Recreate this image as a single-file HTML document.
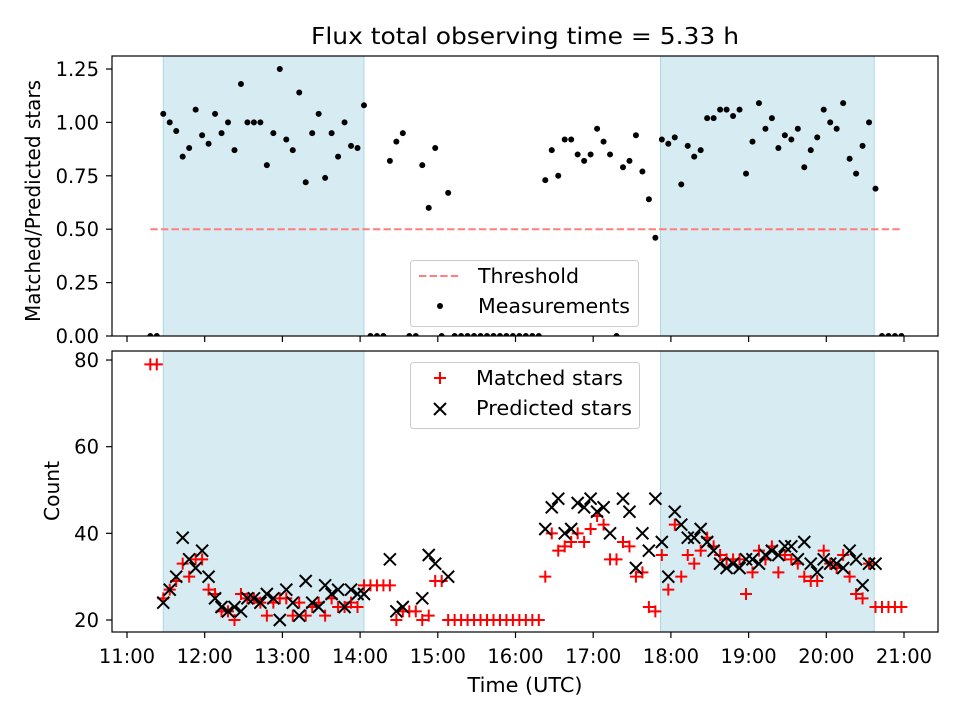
<!DOCTYPE html>
<html><head><meta charset="utf-8">
<style>
html,body{margin:0;padding:0;background:#fff;}
svg{display:block;font-family:"DejaVu Sans","Liberation Sans",sans-serif;}
</style></head>
<body>
<svg id="chart" width="960" height="720" viewBox="0 0 960 720" xmlns="http://www.w3.org/2000/svg">
<defs>
<clipPath id="clipTop"><rect x="112" y="56" width="826" height="280"/></clipPath>
<clipPath id="clipBot"><rect x="112" y="351" width="826" height="281"/></clipPath>
</defs>
<rect x="0" y="0" width="960" height="720" fill="#fff"/>
<text x="525" y="44" font-size="23" text-anchor="middle" textLength="428" lengthAdjust="spacingAndGlyphs">Flux total observing time = 5.33 h</text>
<g id="topPanel"></g>
<g id="botPanel"></g>
</svg>
<script>
// minutes after 11:00 UTC
const times = [18,23,28,33,38,43,48,53,58,63,68,73,78,83,88,93,98,103,108,113,118,123,128,133,138,143,148,153,158,163,168,173,178,183,188,193,198,203,208,213,218,223,228,233,238,243,248,253,258,263,268,273,278,283,288,293,298,303,308,313,318,323,328,333,338,343,348,353,358,363,368,373,378,383,388,393,398,403,408,413,418,423,428,433,438,443,448,453,458,463,468,473,478,483,488,493,498,503,508,513,518,523,528,533,538,543,548,553,558,563,568,573,578,583,588,593,598];
const ratio = [0,0,
1.04,1.00,0.96,0.84,0.88,1.06,0.94,0.90,1.04,0.95,1.00,0.87,1.18,1.00,1.00,1.00,0.80,0.95,1.25,0.92,0.87,1.14,0.72,0.95,1.04,0.74,0.95,0.84,1.00,0.89,0.88,1.08,
0,0,0,0.82,0.91,0.95,0,0,0.80,0.60,0.88,0,0.67,
0,0,0,0,0,0,0,0,0,0,0,0,0,0,
0.73,0.87,0.75,0.92,0.92,0.85,0.82,0.85,0.97,0.91,0.85,0,
0.79,0.82,0.94,0.77,0.64,0.46,0.92,0.90,0.93,0.71,0.89,0.84,0.87,1.02,1.02,1.06,1.06,1.03,1.06,0.76,0.91,1.09,0.97,1.02,0.88,0.94,0.92,0.97,0.79,0.87,0.93,1.06,1.00,0.97,1.09,0.83,0.76,0.89,1.00,0.69,
0,0,0,0];
const matched = [79,79,
25,27,29,33,30,34,34,27,26,22,22,20,26,25,25,24,21,24,25,25,21,24,21,23,24,21,25,23,23,24,23,28,
28,28,28,28,20,22,22,22,20,21,29,29,20,
20,20,20,20,20,20,20,20,20,20,20,20,20,20,
30,40,36,37,38,40,38,41,44,42,34,34,
38,37,30,31,23,22,35,27,42,30,35,33,36,39,37,35,34,34,34,26,31,36,34,37,31,35,34,33,30,29,29,36,33,32,35,30,26,25,33,23,
23,23,23,23];
const predicted = [null,null,
24,27,30,39,34,32,36,30,25,23,22,23,22,25,25,24,26,25,20,27,24,21,29,24,23,28,26,27,23,27,26,26,
null,null,null,34,22,23,null,null,25,35,33,null,30,
null,null,null,null,null,null,null,null,null,null,null,null,null,null,
41,46,48,40,41,47,46,48,45,46,40,null,
48,45,32,40,36,48,38,30,45,42,39,39,41,38,36,33,32,33,32,34,34,33,35,36,35,37,37,34,38,33,31,34,33,33,32,36,34,28,33,33,
null,null,null,null];
const shadeSpans = [[28,183],[412,577]];
const threshold = 0.5;
const thresholdSpan = [18,598];
const xTickLabels = ["11:00","12:00","13:00","14:00","15:00","16:00","17:00","18:00","19:00","20:00","21:00"];
const xTickMinutes = [0,60,120,180,240,300,360,420,480,540,600];
const topTicks = [0,0.25,0.5,0.75,1.0,1.25];
const topTickLabels = ["0.00","0.25","0.50","0.75","1.00","1.25"];
const botTicks = [20,40,60,80];

const NS="http://www.w3.org/2000/svg";
const X = m => 127 + m*77.7/60;
const YT = v => 336 - v*213.6;
const YB = c => 620 - (c-20)*4.333;
const TF = 19.5;
function mk(tag, attrs, parent){const e=document.createElementNS(NS,tag);for(const k in attrs)e.setAttribute(k,attrs[k]);parent.appendChild(e);return e;}
const topG=document.getElementById('topPanel'), botG=document.getElementById('botPanel');

function panel(g, y0, y1, clip){
  const gc = mk('g',{'clip-path':'url(#'+clip+')'},g);
  shadeSpans.forEach(s=>{
    const r=mk('rect',{x:X(s[0]),y:y0,width:X(s[1])-X(s[0]),height:y1-y0,fill:'#add8e6','fill-opacity':0.5,stroke:'#add8e6','stroke-width':1},gc);
    
    
  });
  xTickMinutes.forEach((m,i)=>{
    mk('line',{x1:X(m),x2:X(m),y1:y1,y2:y1+6,stroke:'#000','stroke-width':1.2},g);
  });
  return gc;
}
// top panel
const gt = panel(topG,56,336,'clipTop');
const th = mk('line',{x1:X(thresholdSpan[0]),x2:X(thresholdSpan[1]),y1:YT(threshold),y2:YT(threshold),stroke:'#ff7f7f','stroke-width':2,'stroke-dasharray':'7.4,3.2'},gt);


times.forEach((t,i)=>{
  const c=mk('circle',{cx:X(t),cy:YT(ratio[i]),r:3,fill:'#000'},gt);
  
  
});
mk('rect',{x:112,y:56,width:826,height:280,fill:'none',stroke:'#000','stroke-width':1.2},topG);
topTicks.forEach((v,i)=>{
  mk('line',{x1:106,x2:112,y1:YT(v),y2:YT(v),stroke:'#000','stroke-width':1.2},topG);
  const t=mk('text',{x:99,y:YT(v)+7,'font-size':TF,'text-anchor':'end'},topG);t.textContent=topTickLabels[i];
  
  
});
const ylt=mk('text',{x:0,y:0,'font-size':20,'text-anchor':'middle',textLength:242,lengthAdjust:'spacingAndGlyphs',transform:'translate(40,201) rotate(-90)'},topG);
ylt.textContent='Matched/Predicted stars';


// top legend
const lg1=mk('g',{},topG);


mk('rect',{x:410.5,y:260.5,width:228,height:66,rx:3,fill:'#fff','fill-opacity':0.8,stroke:'#ccc'},lg1);
mk('line',{x1:419,x2:461,y1:276,y2:276,stroke:'#ff7f7f','stroke-width':2,'stroke-dasharray':'7.4,3.2'},lg1);
let lt=mk('text',{x:478,y:283,'font-size':20,textLength:101,lengthAdjust:'spacingAndGlyphs'},lg1);lt.textContent='Threshold';
mk('circle',{cx:440,cy:306,r:3,fill:'#000'},lg1);
lt=mk('text',{x:478,y:313,'font-size':20,textLength:152,lengthAdjust:'spacingAndGlyphs'},lg1);lt.textContent='Measurements';

// bottom panel
const gb = panel(botG,351,632,'clipBot');
function plus(x,y,p){mk('path',{d:`M${x-6},${y}H${x+6}M${x},${y-6}V${y+6}`,stroke:'#ff0000','stroke-width':2,fill:'none'},p);}
function cross(x,y,p){mk('path',{d:`M${x-6},${y-6}L${x+6},${y+6}M${x-6},${y+6}L${x+6},${y-6}`,stroke:'#000','stroke-width':2,fill:'none'},p);}
const gm=mk('g',{},gb);


times.forEach((t,i)=>{ plus(X(t),YB(matched[i]),gm); });
const gp=mk('g',{},gb);


times.forEach((t,i)=>{ if(predicted[i]!==null) cross(X(t),YB(predicted[i]),gp); });
mk('rect',{x:112,y:351,width:826,height:281,fill:'none',stroke:'#000','stroke-width':1.2},botG);
botTicks.forEach(v=>{
  mk('line',{x1:106,x2:112,y1:YB(v),y2:YB(v),stroke:'#000','stroke-width':1.2},botG);
  const t=mk('text',{x:99,y:YB(v)+7,'font-size':TF,'text-anchor':'end'},botG);t.textContent=String(v);
  
  
});
xTickMinutes.forEach((m,i)=>{
  const t=mk('text',{x:X(m),y:663,'font-size':TF,'text-anchor':'middle'},botG);t.textContent=xTickLabels[i];
  
  
});
const ylb=mk('text',{x:0,y:0,'font-size':20,'text-anchor':'middle',textLength:60,lengthAdjust:'spacingAndGlyphs',transform:'translate(59,491) rotate(-90)'},botG);
ylb.textContent='Count';


const xl=mk('text',{x:525,y:692,'font-size':20,'text-anchor':'middle',textLength:115,lengthAdjust:'spacingAndGlyphs'},botG);
xl.textContent='Time (UTC)';


// bottom legend
const lg2=mk('g',{},botG);


mk('rect',{x:410.5,y:362.5,width:229,height:66,rx:3,fill:'#fff','fill-opacity':0.8,stroke:'#ccc'},lg2);
plus(440,378,lg2);
lt=mk('text',{x:476,y:385,'font-size':20,textLength:147,lengthAdjust:'spacingAndGlyphs'},lg2);lt.textContent='Matched stars';
cross(440,409,lg2);
lt=mk('text',{x:476,y:415,'font-size':20,textLength:156,lengthAdjust:'spacingAndGlyphs'},lg2);lt.textContent='Predicted stars';
</script>
</body></html>
